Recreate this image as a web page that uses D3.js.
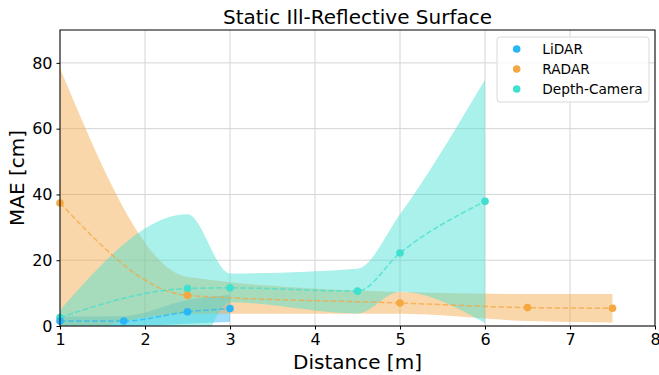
<!DOCTYPE html>
<html>
<head>
  <meta charset="utf-8" />
  <title>Static Ill-Reflective Surface</title>
  <script src="https://cdn.jsdelivr.net/npm/d3@7"></script>
  <style>
    body { margin: 0; background: #fff; }
    text { font-family: "DejaVu Sans", sans-serif; fill: #000; }
  </style>
</head>
<body>
  <svg id="chart" width="659" height="375"></svg>

  <script>
    // values (distance in m, MAE mean and std in cm)
    const lidarDist = [1, 1.75, 2.5, 3];
    const lidarMean = [1.5, 1.5, 4.3, 5.3];
    const lidarStd = [1.4, 1.5, 3.6, 4.1];

    const radarDist = [1, 2.5, 5, 6.5, 7.5];
    const radarMean = [37.4, 9.3, 7.0, 5.6, 5.4];
    const radarStd = [41.0, 5.6, 3.3, 4.1, 4.3];

    const depthDist = [1, 2.5, 3, 4.5, 5, 6];
    const depthMean = [2.6, 11.4, 11.6, 10.6, 22.2, 37.9];
    const depthStd = [2.2, 22.6, 4.4, 6.8, 11.8, 37.0];

    const xTicks = [1, 2, 3, 4, 5, 6, 7, 8];
    const yTicks = [0, 20, 40, 60, 80];

    const series = [
      { name: "LiDAR", color: "#29b6f6", dist: lidarDist, mean: lidarMean, std: lidarStd },
      { name: "RADAR", color: "#f5a742", dist: radarDist, mean: radarMean, std: radarStd },
      { name: "Depth-Camera", color: "#40e0d0", dist: depthDist, mean: depthMean, std: depthStd },
    ];

    const margin = { top: 30, right: 4, bottom: 49, left: 60 },
      width = 659 - margin.left - margin.right,
      height = 375 - margin.top - margin.bottom;

    const svg = d3.select("svg#chart");
    const g = svg.append("g")
      .attr("transform", "translate(" + margin.left + "," + margin.top + ")");

    const x = d3.scaleLinear().domain([1, 8]).range([0, width]);
    const y = d3.scaleLinear().domain([0, 90]).range([height, 0]);

    svg.append("defs").append("clipPath").attr("id", "plotClip")
      .append("rect").attr("width", width).attr("height", height);

    // grid
    g.append("g").selectAll("line.gx").data(xTicks).enter().append("line")
      .attr("x1", d => x(d)).attr("x2", d => x(d))
      .attr("y1", 0).attr("y2", height)
      .attr("stroke", "#d4d4d4").attr("stroke-width", 1);
    g.append("g").selectAll("line.gy").data(yTicks).enter().append("line")
      .attr("x1", 0).attr("x2", width)
      .attr("y1", d => y(d)).attr("y2", d => y(d))
      .attr("stroke", "#d4d4d4").attr("stroke-width", 1);

    const plot = g.append("g").attr("clip-path", "url(#plotClip)");

    // bands: mean +/- std
    series.forEach(s => {
      const pts = s.dist.map((d, i) => ({ d: d, lo: s.mean[i] - s.std[i], hi: s.mean[i] + s.std[i] }));
      plot.append("path")
        .datum(pts)
        .attr("fill", s.color)
        .attr("fill-opacity", 0.45)
        .attr("d", d3.area()
          .curve(d3.curveMonotoneX)
          .x(p => x(p.d))
          .y0(p => y(p.lo))
          .y1(p => y(p.hi)));
    });

    // dashed mean lines
    series.forEach(s => {
      const pts = s.dist.map((d, i) => ({ d: d, v: s.mean[i] }));
      plot.append("path")
        .datum(pts)
        .attr("fill", "none")
        .attr("stroke", s.color)
        .attr("stroke-opacity", 0.75)
        .attr("stroke-width", 1.5)
        .attr("stroke-dasharray", "5.5,2.5")
        .attr("d", d3.line()
          .curve(d3.curveMonotoneX)
          .x(p => x(p.d))
          .y(p => y(p.v)));
    });

    // points (LiDAR on top)
    [series[2], series[1], series[0]].forEach(s => {
      g.append("g").selectAll("circle").data(s.dist).enter().append("circle")
        .attr("cx", d => x(d))
        .attr("cy", (d, i) => y(s.mean[i]))
        .attr("r", 3.8)
        .attr("fill", s.color);
    });

    // frame
    g.append("rect").attr("width", width).attr("height", height)
      .attr("fill", "none").attr("stroke", "#000").attr("stroke-width", 1);

    // axes
    const xAxis = g.append("g")
      .attr("transform", "translate(0," + height + ")")
      .call(d3.axisBottom(x).tickValues(xTicks).tickFormat(d3.format("d")).tickSizeOuter(0).tickSize(3.5).tickPadding(4));
    const yAxis = g.append("g")
      .call(d3.axisLeft(y).tickValues(yTicks).tickSizeOuter(0).tickSize(3.5).tickPadding(4));
    [xAxis, yAxis].forEach(a => {
      a.select(".domain").remove();
      a.selectAll("text").attr("font-family", "DejaVu Sans").attr("font-size", 16).attr("fill", "#000");
      a.selectAll("line").attr("stroke", "#000");
    });

    // labels
    svg.append("text")
      .attr("x", margin.left + width / 2).attr("y", 24)
      .attr("text-anchor", "middle").attr("font-size", 20)
      .text("Static Ill-Reflective Surface");
    svg.append("text")
      .attr("x", margin.left + width / 2).attr("y", 369)
      .attr("text-anchor", "middle").attr("font-size", 20)
      .text("Distance [m]");
    svg.append("text")
      .attr("transform", "translate(24," + (margin.top + height / 2) + ") rotate(-90)")
      .attr("text-anchor", "middle").attr("font-size", 20)
      .text("MAE [cm]");

    // legend
    const legend = svg.append("g").attr("transform", "translate(497,37)");
    legend.append("rect")
      .attr("width", 152).attr("height", 65).attr("rx", 3)
      .attr("fill", "#fff").attr("fill-opacity", 0.8)
      .attr("stroke", "#d9d9d9").attr("stroke-width", 1);
    series.forEach((s, i) => {
      legend.append("circle")
        .attr("cx", 19.7).attr("cy", 12 + i * 20).attr("r", 3.8)
        .attr("fill", s.color);
      legend.append("text")
        .attr("x", 45.3).attr("y", 12 + i * 20).attr("dy", "0.36em")
        .attr("font-size", 13.7)
        .text(s.name);
    });
  </script>
</body>
</html>
